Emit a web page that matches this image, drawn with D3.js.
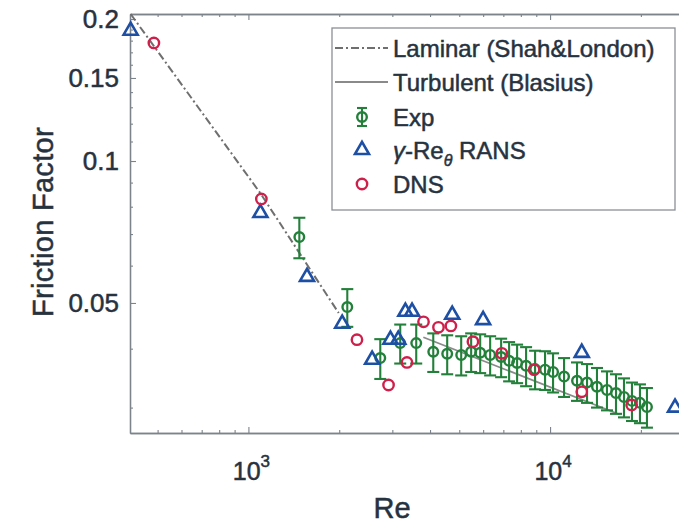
<!DOCTYPE html>
<html>
<head>
<meta charset="utf-8">
<script src="https://d3js.org/d3.v7.min.js"></script>
<style>
  html, body { margin: 0; padding: 0; background: #fff; overflow: hidden; }
  text { font-family: "Liberation Sans", Arial, Helvetica, sans-serif; fill: #27323f; stroke: #27323f; stroke-width: 0.5; }
</style>
</head>
<body>
<svg width="679" height="523"></svg>
<script>
// ---- data ----
var laminarRe = [407, 1096, 1992];
var laminarF = [0.205, 0.0854, 0.0476];

var turbRe = [3800, 17000];
var turbF = [0.0423, 0.0290];

var expRe = [1475, 2127, 2736, 3186, 3600, 4100, 4560, 5074, 5475, 5865, 6329, 6883, 7315, 7775,
             8327, 8919, 9625, 10231, 11127, 12284, 13260, 14305, 15440, 16540, 17580, 18685, 19860, 20950];
var expF = [0.0690, 0.0490, 0.0382, 0.0411, 0.0411, 0.0394, 0.0390, 0.0388, 0.0394, 0.0392, 0.0388, 0.0384, 0.0377, 0.0373,
            0.0368, 0.0362, 0.0361, 0.0357, 0.0349, 0.0342, 0.0339, 0.0332, 0.0327, 0.0322, 0.0316, 0.0310, 0.0307, 0.0301];
var expErr = [0.0068, 0.0045, 0.0037, 0.0039, 0.0039, 0.0037, 0.0037, 0.0037, 0.0037, 0.0037, 0.0037, 0.0036, 0.0036, 0.0035,
              0.0035, 0.0034, 0.0034, 0.0034, 0.0033, 0.0032, 0.0032, 0.0032, 0.0031, 0.0031, 0.0030, 0.0029, 0.0029, 0.0029];

var ransRe = [407, 1096, 1564, 2046, 2571, 2957, 3139, 3314, 3487, 4738, 5998, 12736, 25950];
var ransF = [0.189, 0.0776, 0.0568, 0.0452, 0.0379, 0.0418, 0.0418, 0.0479, 0.0479, 0.0472, 0.0460, 0.0392, 0.0300];

var dnsRe = [486, 1104, 2290, 2914, 3354, 3806, 4266, 4690, 5549, 6918, 8851, 12736, 18640];
var dnsF = [0.178, 0.0831, 0.0418, 0.0335, 0.0374, 0.0456, 0.0444, 0.0447, 0.0414, 0.0391, 0.0361, 0.0324, 0.0304];

var xMajor = [1000, 10000];
var xMajorExp = ["3", "4"];
var xMinor = [500, 600, 700, 800, 900, 2000, 3000, 4000, 5000, 6000, 7000, 8000, 9000, 20000];
var yMajor = [0.05, 0.1, 0.15, 0.2];
var yMajorLabels = ["0.05", "0.1", "0.15", "0.2"];
var yMinor = [0.03, 0.04, 0.06, 0.07, 0.08, 0.09, 0.11, 0.12, 0.13, 0.14, 0.16, 0.17, 0.18, 0.19];

var legendNames = ["Laminar (Shah&London)", "Turbulent (Blasius)", "Exp", "RANS", "DNS"];

// ---- colours ----
var axisColor = "#7d838a";
var green = "#23803a";
var blue = "#1d4fa5";
var red = "#cf1f4b";

var svg = d3.select("svg");

var x = d3.scaleLog().domain([405, 30000]).range([130, 694]);
var y = d3.scaleLog().domain([0.0265, 0.205]).range([433, 14]);

// ---- axes (inward ticks, box style) ----
function styleAxis(g) {
	g.selectAll("path.domain").attr("stroke", axisColor).attr("stroke-width", 1.3);
	g.selectAll(".tick line").attr("stroke", axisColor).attr("stroke-width", 1.1);
}

svg.append("g").attr("transform", "translate(0,433)")
	.call(d3.axisBottom(x).tickValues(xMinor).tickSize(-3).tickSizeOuter(0).tickFormat(""))
	.call(styleAxis);
svg.append("g").attr("transform", "translate(0,433)")
	.call(d3.axisBottom(x).tickValues(xMajor).tickSize(-6).tickSizeOuter(0).tickFormat(""))
	.call(styleAxis);
svg.append("g").attr("transform", "translate(0,14)")
	.call(d3.axisTop(x).tickValues(xMinor).tickSize(-3).tickSizeOuter(0).tickFormat(""))
	.call(styleAxis);
svg.append("g").attr("transform", "translate(0,14)")
	.call(d3.axisTop(x).tickValues(xMajor).tickSize(-6).tickSizeOuter(0).tickFormat(""))
	.call(styleAxis);

svg.append("g").attr("transform", "translate(130,0)")
	.call(d3.axisLeft(y).tickValues(yMinor).tickSize(-3).tickSizeOuter(0).tickFormat(""))
	.call(styleAxis);
var yAx = svg.append("g").attr("transform", "translate(130,0)")
	.call(d3.axisLeft(y).tickValues(yMajor).tickSize(-6).tickSizeOuter(0).tickPadding(11)
		.tickFormat(function(d, i) { return yMajorLabels[i]; }))
	.call(styleAxis);
yAx.selectAll("text")
	.attr("font-size", 26)
	.attr("font-family", "Liberation Sans, Arial, sans-serif")
	.attr("fill", "#27323f");

// x tick labels with superscript exponents
var xl = svg.append("g").selectAll("text")
	.data(xMajor)
	.enter().append("text")
	.attr("x", function(d) { return x(d) + 3; })
	.attr("y", 480)
	.attr("text-anchor", "middle")
	.attr("font-size", 25);
xl.append("tspan").text("10");
xl.append("tspan").attr("dy", -13).attr("font-size", 17)
	.text(function(d, i) { return xMajorExp[i]; });

// axis titles
svg.append("text")
	.attr("x", 392).attr("y", 518)
	.attr("text-anchor", "middle")
	.attr("font-size", 29)
	.text("Re");
svg.append("text")
	.attr("transform", "translate(53,222) rotate(-90)")
	.attr("text-anchor", "middle")
	.attr("font-size", 29)
	.attr("letter-spacing", 0.3)
	.text("Friction Factor");

// ---- lines ----
var line = d3.line()
	.x(function(d) { return x(d[0]); })
	.y(function(d) { return y(d[1]); });

svg.append("path")
	.datum(laminarRe.map(function(r, i) { return [r, laminarF[i]]; }))
	.attr("d", line)
	.attr("fill", "none")
	.attr("stroke", "#6f6f6f")
	.attr("stroke-width", 2)
	.attr("stroke-dasharray", "8,3,2,3");

svg.append("path")
	.datum(turbRe.map(function(r, i) { return [r, turbF[i]]; }))
	.attr("d", line)
	.attr("fill", "none")
	.attr("stroke", "#8a8a8a")
	.attr("stroke-width", 1.8);

// ---- Exp with error bars ----
var exp = expRe.map(function(r, i) { return { re: r, f: expF[i], e: expErr[i] }; });
var eg = svg.append("g").selectAll("g")
	.data(exp)
	.enter().append("g")
	.attr("stroke", green)
	.attr("stroke-width", 2.1);
eg.append("line")
	.attr("x1", function(d) { return x(d.re); })
	.attr("x2", function(d) { return x(d.re); })
	.attr("y1", function(d) { return y(d.f + d.e); })
	.attr("y2", function(d) { return y(d.f - d.e); });
eg.append("line")
	.attr("x1", function(d) { return x(d.re) - 6; })
	.attr("x2", function(d) { return x(d.re) + 6; })
	.attr("y1", function(d) { return y(d.f + d.e); })
	.attr("y2", function(d) { return y(d.f + d.e); });
eg.append("line")
	.attr("x1", function(d) { return x(d.re) - 6; })
	.attr("x2", function(d) { return x(d.re) + 6; })
	.attr("y1", function(d) { return y(d.f - d.e); })
	.attr("y2", function(d) { return y(d.f - d.e); });
eg.append("circle")
	.attr("cx", function(d) { return x(d.re); })
	.attr("cy", function(d) { return y(d.f); })
	.attr("r", 4.8)
	.attr("fill", "none")
	.attr("stroke-width", 2.4);

// ---- RANS triangles ----
var tri = d3.symbol().type(d3.symbolTriangle).size(85);
svg.append("g").selectAll("path")
	.data(ransRe)
	.enter().append("path")
	.attr("d", tri)
	.attr("transform", function(d, i) { return "translate(" + x(d) + "," + y(ransF[i]) + ")"; })
	.attr("fill", "none")
	.attr("stroke", blue)
	.attr("stroke-width", 2.6);

// ---- DNS circles ----
svg.append("g").selectAll("circle")
	.data(dnsRe)
	.enter().append("circle")
	.attr("cx", function(d) { return x(d); })
	.attr("cy", function(d, i) { return y(dnsF[i]); })
	.attr("r", 5.2)
	.attr("fill", "none")
	.attr("stroke", red)
	.attr("stroke-width", 2.4);

// ---- legend ----
var lg = svg.append("g");
lg.append("rect")
	.attr("x", 332).attr("y", 28).attr("width", 343).attr("height", 182)
	.attr("fill", "#fff").attr("stroke", "#8a8f96").attr("stroke-width", 1.3);

var rowY = [48, 82, 117, 150, 184];
lg.append("line").attr("x1", 335).attr("x2", 388).attr("y1", rowY[0]).attr("y2", rowY[0])
	.attr("stroke", "#6f6f6f").attr("stroke-width", 2).attr("stroke-dasharray", "8,3,2,3");
lg.append("line").attr("x1", 335).attr("x2", 388).attr("y1", rowY[1]).attr("y2", rowY[1])
	.attr("stroke", "#8a8a8a").attr("stroke-width", 1.8);
var le = lg.append("g").attr("stroke", green).attr("stroke-width", 2.1);
le.append("line").attr("x1", 362).attr("x2", 362).attr("y1", rowY[2] - 9).attr("y2", rowY[2] + 9);
le.append("line").attr("x1", 357).attr("x2", 367).attr("y1", rowY[2] - 9).attr("y2", rowY[2] - 9);
le.append("line").attr("x1", 357).attr("x2", 367).attr("y1", rowY[2] + 9).attr("y2", rowY[2] + 9);
le.append("circle").attr("cx", 362).attr("cy", rowY[2]).attr("r", 4.8).attr("fill", "none").attr("stroke-width", 2.4);
lg.append("path").attr("d", tri).attr("transform", "translate(362," + rowY[3] + ")")
	.attr("fill", "none").attr("stroke", blue).attr("stroke-width", 2.6);
lg.append("circle").attr("cx", 362).attr("cy", rowY[4]).attr("r", 5.2)
	.attr("fill", "none").attr("stroke", red).attr("stroke-width", 2.4);

lg.selectAll("text.lbl")
	.data(legendNames)
	.enter().append("text")
	.attr("class", "lbl")
	.attr("x", 393)
	.attr("y", function(d, i) { return rowY[i] + 9; })
	.attr("font-size", 24)
	.each(function(d, i) {
		var t = d3.select(this);
		if (i === 3) {
			t.append("tspan").attr("font-style", "italic").text("\u03b3");
			t.append("tspan").text("-Re");
			t.append("tspan").attr("font-style", "italic").attr("font-size", 16).attr("dy", 7).text("\u03b8");
			t.append("tspan").attr("dy", -7).text(" " + d);
		} else {
			t.text(d);
		}
	});
</script>
</body>
</html>
